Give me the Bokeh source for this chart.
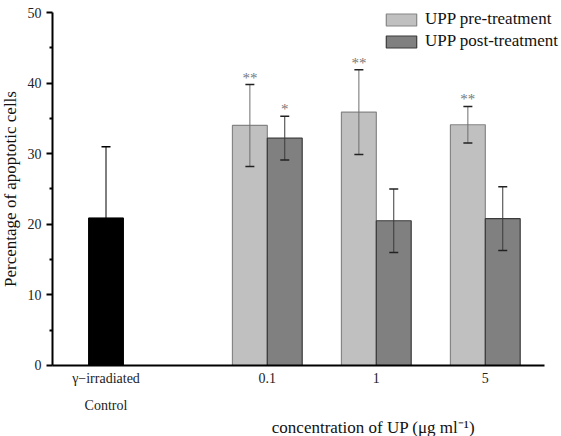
from bokeh.plotting import figure
from bokeh.models import (ColumnDataSource, Whisker, TeeHead, Legend, LegendItem,
                          FixedTicker, Range1d)
from bokeh.embed import file_html
from bokeh.resources import INLINE
from bokeh.core.properties import value

# ---- data ----
groups = ["0.1", "1", "5"]
control_label = "γ−irradiated"
control_label2 = "Control"
control_mean = [20.9]
control_err = [10.1]
pre_mean = [34.0, 35.9, 34.1]
pre_err = [5.8, 6.0, 2.6]
post_mean = [32.2, 20.5, 20.8]
post_err = [3.1, 4.5, 4.5]
pre_sig = ["**", "**", "**"]
post_sig = ["*", "", ""]
y_ticks = [0, 10, 20, 30, 40, 50]
y_minor = [5, 15, 25, 35, 45]
series_names = ["UPP pre-treatment", "UPP post-treatment"]
y_title = "Percentage of apoptotic cells"
x_title = "concentration of UP (μg ml⁻¹)"

FONT = "Liberation Serif"
W = 0.32
ctrl_x = [0.0]
centers = [1.48 + i for i in range(len(groups))]
pre_x = [c - W / 2 for c in centers]
post_x = [c + W / 2 for c in centers]

def src(xs, m, e, sig=None):
    d = dict(x=xs, top=m, upper=[a + b for a, b in zip(m, e)],
             lower=[a - b for a, b in zip(m, e)])
    if sig is not None:
        d["sig"] = sig
    return ColumnDataSource(d)

s_ctrl = src(ctrl_x, control_mean, control_err)
s_pre = src(pre_x, pre_mean, pre_err, pre_sig)
s_post = src(post_x, post_mean, post_err, post_sig)

XL, XR = -0.491, 4.023
p = figure(width=561, height=436, output_backend="svg", toolbar_location=None,
           x_range=Range1d(-0.968, 4.179), y_range=Range1d(-10.06, 51.70),
           min_border_left=0, min_border_right=0, min_border_top=0,
           min_border_bottom=0)
p.outline_line_color = None
p.grid.visible = False
p.background_fill_color = "white"
p.border_fill_color = "white"

r_ctrl = p.vbar(x="x", top="top", width=W, source=s_ctrl, fill_color="black",
                line_color="black")
r_pre = p.vbar(x="x", top="top", width=W, source=s_pre, fill_color="#c0c0c0",
               line_color="#858585", line_width=1.2)
r_post = p.vbar(x="x", top="top", width=W, source=s_post, fill_color="#808080",
                line_color="#3a3a3a", line_width=1.2)

for s, stem, head in ((s_ctrl, "black", "black"), (s_pre, "#6e6e6e", "#222222"),
                      (s_post, "#3a3a3a", "#222222")):
    w = Whisker(source=s, base="x", upper="upper", lower="lower", dimension="height",
                line_color=stem, line_width=1, level="annotation",
                upper_head=TeeHead(size=9, line_color=head, line_width=1.5),
                lower_head=TeeHead(size=9, line_color=head, line_width=1.5))
    p.add_layout(w)

for s in (s_pre, s_post):
    p.text(x="x", y="upper", text="sig", source=s, text_align="center",
           text_baseline="alphabetic", y_offset=-7, text_color="#777777",
           text_font=value(FONT), text_font_size="15px")

# axes
xa = p.xaxis[0]
xa.fixed_location = 0
xa.bounds = (XL, XR)
xa.ticker = FixedTicker(ticks=ctrl_x + centers)
ov = {ctrl_x[0]: control_label}
for c, g in zip(centers, groups):
    ov[c] = g
xa.major_label_overrides = ov
xa.major_tick_out = 0
xa.major_tick_in = 0
xa.minor_tick_out = 0
xa.minor_tick_in = 0
xa.axis_line_width = 2
xa.axis_line_color = "black"
xa.major_label_standoff = 6
xa.major_label_text_font = FONT
xa.major_label_text_font_size = "14px"
xa.major_label_text_color = "#222222"

ya = p.yaxis[0]
ya.fixed_location = XL
ya.bounds = (0, 50)
ya.ticker = FixedTicker(ticks=y_ticks, minor_ticks=y_minor)
ya.axis_line_width = 2
ya.axis_line_color = "black"
ya.major_tick_out = 6
ya.major_tick_in = 0
ya.minor_tick_out = 3
ya.minor_tick_in = 0
ya.major_tick_line_width = 2
ya.minor_tick_line_width = 2
ya.major_label_standoff = 5
ya.major_label_text_font = FONT
ya.major_label_text_font_size = "14px"
ya.major_label_text_color = "#222222"
ya.axis_label = y_title
ya.axis_label_text_font = FONT
ya.axis_label_text_font_style = "normal"
ya.axis_label_text_font_size = "17px"
ya.axis_label_text_color = "#111111"
ya.axis_label_standoff = 5

# extra texts below the axis
p.text(x=ctrl_x, y=[-5.67], text=[control_label2], text_align="center",
       text_baseline="middle", text_font=value(FONT), text_font_size="14px",
       text_color="#222222")
p.text(x=[2.454], y=[-8.78], text=[x_title], text_align="center",
       text_baseline="middle", text_font=value(FONT), text_font_size="17px",
       text_color="#111111")

legend = Legend(items=[LegendItem(label=series_names[0], renderers=[r_pre]),
                       LegendItem(label=series_names[1], renderers=[r_post])],
                location=(382, 385), padding=0, margin=0, spacing=2,
                glyph_width=38, glyph_height=15, label_standoff=5,
                label_text_font=FONT, label_text_font_size="17px",
                label_text_color="#111111", background_fill_alpha=0,
                border_line_alpha=0)
p.add_layout(legend)

open("out.html", "w").write(file_html(p, INLINE))
